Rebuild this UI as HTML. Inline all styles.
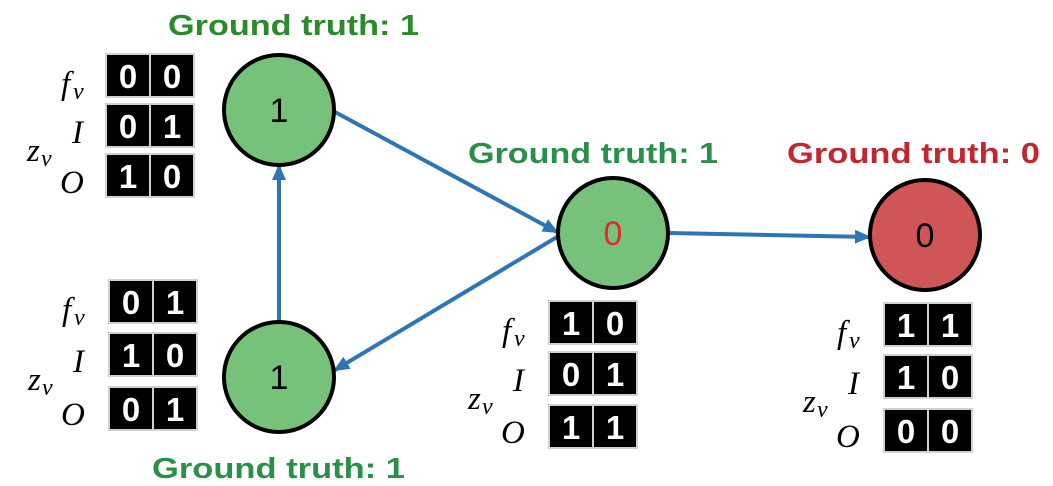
<!DOCTYPE html>
<html><head><meta charset="utf-8"><style>
html,body{margin:0;padding:0;background:#fff;}
svg{display:block;}
.gt{font-family:"Liberation Sans",sans-serif;font-weight:bold;font-size:29px;}
.cell{font-family:"Liberation Sans",sans-serif;font-weight:bold;font-size:33px;fill:#fff;text-anchor:middle;}
.lab{font-family:"Liberation Serif",serif;font-style:italic;font-size:33px;fill:#000;}
.sub{font-family:"Liberation Serif",serif;font-style:italic;font-size:24px;fill:#000;}
.nd{font-family:"Liberation Sans",sans-serif;font-size:34px;text-anchor:middle;}
</style></head><body>
<svg width="1053" height="486" viewBox="0 0 1053 486" xmlns="http://www.w3.org/2000/svg">
<defs>
<marker id="ah" markerWidth="16" markerHeight="14" refX="14" refY="7" orient="auto" markerUnits="userSpaceOnUse">
<path d="M0,0 L16,7 L0,14 Z" fill="#2e75b6"/>
</marker>
<g id="row">
<rect x="0" y="0" width="90" height="45" fill="#d0d0d0"/>
<rect x="2" y="2" width="42" height="41" fill="#000"/>
<rect x="46" y="2" width="42" height="41" fill="#000"/>
</g>
</defs>

<g stroke="#2e75b6" stroke-width="4" fill="none">
<line x1="335" y1="112" x2="557" y2="232" marker-end="url(#ah)"/>
<line x1="557" y1="237" x2="335" y2="370" marker-end="url(#ah)"/>
<line x1="279" y1="322" x2="279" y2="166" marker-end="url(#ah)"/>
<line x1="669" y1="233" x2="869" y2="237" marker-end="url(#ah)"/>
</g>

<circle cx="279" cy="110" r="55" fill="#77c27a" stroke="#000" stroke-width="4"/>
<text class="nd" x="279" y="122">1</text>
<circle cx="279" cy="377" r="55" fill="#77c27a" stroke="#000" stroke-width="4"/>
<text class="nd" x="279" y="389">1</text>
<circle cx="613" cy="233" r="55" fill="#77c27a" stroke="#000" stroke-width="4"/>
<text class="nd" x="613" y="245" fill="#e02a2a">0</text>
<circle cx="925" cy="235" r="55" fill="#d05556" stroke="#000" stroke-width="4"/>
<text class="nd" x="925" y="247">0</text>

<text class="gt" x="168" y="35" fill="#2b8a2b" textLength="251" lengthAdjust="spacingAndGlyphs">Ground truth: 1</text>
<text class="gt" x="468" y="163" fill="#2a8f4a" textLength="250" lengthAdjust="spacingAndGlyphs">Ground truth: 1</text>
<text class="gt" x="787" y="163" fill="#c0272f" textLength="253" lengthAdjust="spacingAndGlyphs">Ground truth: 0</text>
<text class="gt" x="152" y="478" fill="#2a8f4a" textLength="253" lengthAdjust="spacingAndGlyphs">Ground truth: 1</text>

<g transform="translate(105,53)">
<use href="#row" y="0"/><use href="#row" y="50"/><use href="#row" y="100"/>
<text class="cell" x="23" y="35">0</text><text class="cell" x="67" y="35">0</text>
<text class="cell" x="23" y="85">0</text><text class="cell" x="67" y="85">1</text>
<text class="cell" x="23" y="135">1</text><text class="cell" x="67" y="135">0</text>
<text class="lab" x="-44" y="41">f</text><text class="sub" x="-32" y="46">v</text>
<text class="lab" x="-33" y="90">I</text>
<text class="lab" x="-78" y="108">z</text><text class="sub" x="-64" y="113">v</text>
<text class="lab" x="-45" y="140">O</text>
</g>

<g transform="translate(108,279)">
<use href="#row" y="0"/><use href="#row" y="53"/><use href="#row" y="107"/>
<text class="cell" x="23" y="35">0</text><text class="cell" x="67" y="35">1</text>
<text class="cell" x="23" y="88">1</text><text class="cell" x="67" y="88">0</text>
<text class="cell" x="23" y="142">0</text><text class="cell" x="67" y="142">1</text>
<text class="lab" x="-46" y="41">f</text><text class="sub" x="-34" y="46">v</text>
<text class="lab" x="-35" y="93">I</text>
<text class="lab" x="-80" y="111">z</text><text class="sub" x="-66" y="116">v</text>
<text class="lab" x="-47" y="146">O</text>
</g>

<g transform="translate(548,300)">
<use href="#row" y="0"/><use href="#row" y="51"/><use href="#row" y="104"/>
<text class="cell" x="23" y="35">1</text><text class="cell" x="67" y="35">0</text>
<text class="cell" x="23" y="86">0</text><text class="cell" x="67" y="86">1</text>
<text class="cell" x="23" y="139">1</text><text class="cell" x="67" y="139">1</text>
<text class="lab" x="-46" y="41">f</text><text class="sub" x="-34" y="46">v</text>
<text class="lab" x="-35" y="91">I</text>
<text class="lab" x="-80" y="109">z</text><text class="sub" x="-66" y="114">v</text>
<text class="lab" x="-47" y="143">O</text>
</g>

<g transform="translate(883,302)">
<use href="#row" y="0"/><use href="#row" y="52"/><use href="#row" y="106"/>
<text class="cell" x="23" y="35">1</text><text class="cell" x="67" y="35">1</text>
<text class="cell" x="23" y="87">1</text><text class="cell" x="67" y="87">0</text>
<text class="cell" x="23" y="141">0</text><text class="cell" x="67" y="141">0</text>
<text class="lab" x="-46" y="41">f</text><text class="sub" x="-34" y="46">v</text>
<text class="lab" x="-35" y="92">I</text>
<text class="lab" x="-80" y="110">z</text><text class="sub" x="-66" y="115">v</text>
<text class="lab" x="-47" y="145">O</text>
</g>
</svg>
</body></html>
